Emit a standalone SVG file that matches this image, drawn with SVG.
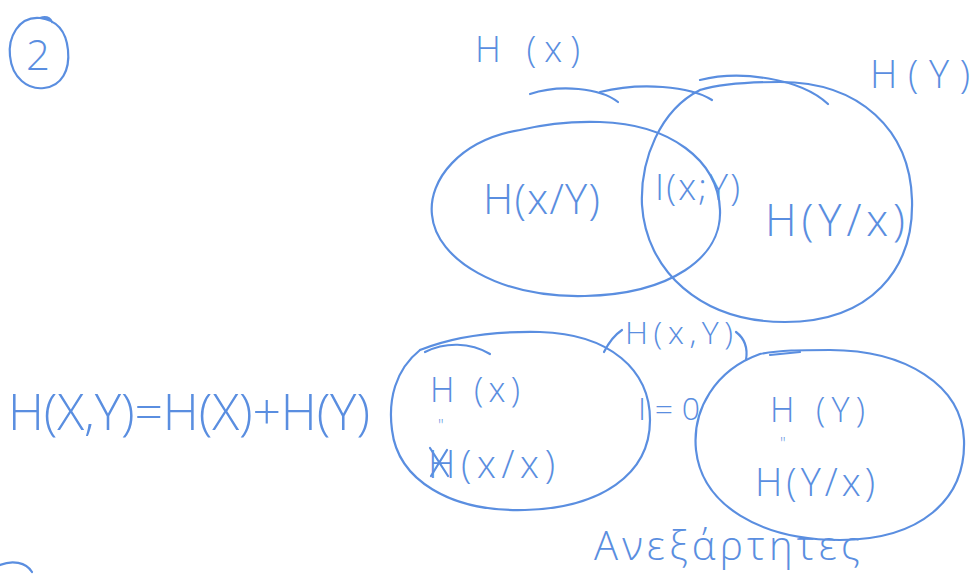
<svg xmlns="http://www.w3.org/2000/svg" width="976" height="580" viewBox="0 0 976 580">
<style>
.ink{fill:none;stroke:#5a8ee0;stroke-width:2.2;stroke-linecap:round;stroke-linejoin:round}
.t{fill:#5a8ee0;font-family:"Open Sans","Liberation Sans",sans-serif;font-weight:300}
</style>
<rect width="976" height="580" fill="#ffffff"/>
<g id="label-2">
<path class="ink" d="M40 18 C18 16 8 38 10 56 C12 78 28 90 44 88 C62 86 70 70 68 50 C66 30 56 20 40 18 C46 16 50 18 52 22"/>
<text class="t" x="38" y="70" font-size="42" text-anchor="middle">2</text>
</g>
<g id="venn-top">
<g id="set-X">
<path class="ink" d="M520 130 C460 140 428 180 432 215 C436 260 500 298 585 296 C670 294 722 258 720 210 C718 160 670 124 600 122 C570 121 545 124 520 130"/>
<text class="t" x="475" y="62" font-size="36" textLength="105" lengthAdjust="spacing">H (x)</text>
<text class="t" x="483" y="214" font-size="42" textLength="117" lengthAdjust="spacing">H(x/Y)</text>
</g>
<g id="set-Y">
<path class="ink" d="M700 90 C660 110 640 160 642 205 C646 270 700 322 785 322 C870 322 914 270 912 200 C910 130 860 82 780 82 C745 82 720 84 700 90"/>
<text class="t" x="870" y="88" font-size="38" textLength="100" lengthAdjust="spacing">H(Y)</text>
<text class="t" x="765" y="236" font-size="44" textLength="140" lengthAdjust="spacing">H(Y/x)</text>
</g>
<g id="intersection">
<text class="t" x="655" y="200" font-size="36" textLength="85" lengthAdjust="spacing">I(x;Y)</text>
</g>
</g>
<g id="venn-bottom">
<g id="set-X2">
<path class="ink" d="M420 350 C395 370 388 400 392 430 C398 480 450 512 525 510 C600 508 650 475 650 420 C650 370 610 334 540 332 C490 331 450 338 420 350"/>
<text class="t" x="430" y="402" font-size="34" textLength="90" lengthAdjust="spacing">H (x)</text>
<text class="t" x="438" y="431" font-size="16">"</text>
<text class="t" x="428" y="478" font-size="38" textLength="127" lengthAdjust="spacing">H(x/x)</text>
<path class="ink" d="M430 448 L448 476 M431 476 L447 450"/>
</g>
<g id="set-Y2">
<path class="ink" d="M760 354 C715 370 692 410 696 450 C702 505 760 540 840 540 C920 540 966 500 964 440 C962 385 905 350 830 350 C800 350 780 350 760 354"/>
<text class="t" x="770" y="422" font-size="34" textLength="95" lengthAdjust="spacing">H (Y)</text>
<text class="t" x="780" y="449" font-size="16">"</text>
<text class="t" x="755" y="496" font-size="38" textLength="120" lengthAdjust="spacing">H(Y/x)</text>
</g>
<g id="joint">
<text class="t" x="625" y="344" font-size="32" textLength="108" lengthAdjust="spacing">H(x,Y)</text>
<text class="t" x="638" y="420" font-size="32" textLength="62" lengthAdjust="spacing">I=0</text>
</g>
<g id="equation">
<text class="t" x="8" y="430" font-size="50" textLength="362" lengthAdjust="spacing">H(X,Y)=H(X)+H(Y)</text>
</g>
<g id="caption">
<text class="t" x="594" y="560" font-size="40" textLength="266" lengthAdjust="spacing">Ανεξάρτητες</text>
</g>
</g>
<g id="connectors">
<path class="ink" d="M530 94 C560 84 600 88 618 102"/>
<path class="ink" d="M600 92 C640 82 690 86 712 100"/>
<path class="ink" d="M700 80 C740 70 800 78 828 104"/>
<path class="ink" d="M425 352 C445 342 470 342 490 354"/>
<path class="ink" d="M604 352 C610 340 616 334 622 330"/>
<path class="ink" d="M736 332 C744 338 748 348 746 360"/>
<path class="ink" d="M770 355 L800 352"/>
<path class="ink" d="M0 565 C12 560 26 562 32 572"/>
</g>
</svg>
